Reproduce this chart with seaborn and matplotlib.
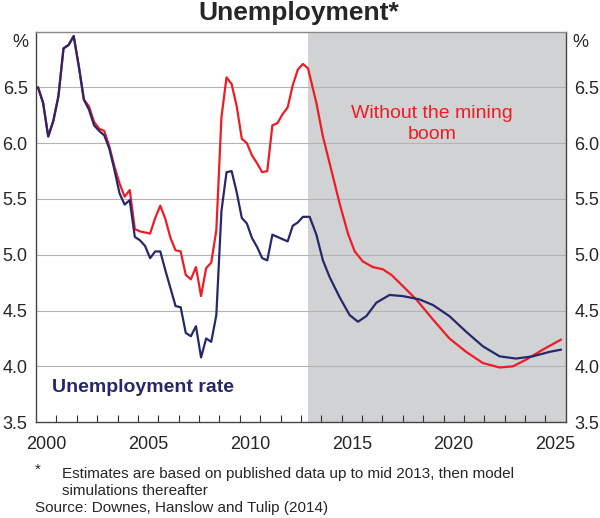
import numpy as np
import pandas as pd
import seaborn as sns
import matplotlib.pyplot as plt

# quarterly history, 2000 Q1 .. 2013 Q2
hist_years = 2000.1 + 0.25 * np.arange(54)
actual_hist = [6.50, 6.36, 6.06, 6.20, 6.42, 6.85, 6.88, 6.96, 6.69, 6.39,
               6.30, 6.16, 6.11, 6.07, 5.95, 5.76, 5.55, 5.45, 5.49, 5.16,
               5.13, 5.08, 4.97, 5.03, 5.03, 4.86, 4.70, 4.54, 4.53, 4.30,
               4.27, 4.36, 4.08, 4.25, 4.22, 4.46, 5.39, 5.74, 5.75, 5.56,
               5.33, 5.28, 5.15, 5.07, 4.97, 4.95, 5.18, 5.16, 5.14, 5.12,
               5.26, 5.29, 5.34, 5.34]
nomining_hist = [6.50, 6.36, 6.06, 6.20, 6.42, 6.85, 6.88, 6.96, 6.69, 6.39,
                 6.33, 6.19, 6.13, 6.11, 5.97, 5.79, 5.64, 5.52, 5.58, 5.23,
                 5.21, 5.20, 5.19, 5.33, 5.44, 5.32, 5.15, 5.04, 5.03, 4.82,
                 4.78, 4.89, 4.63, 4.88, 4.93, 5.22, 6.23, 6.59, 6.53, 6.33,
                 6.04, 6.00, 5.89, 5.82, 5.74, 5.75, 6.16, 6.18, 6.26, 6.32,
                 6.52, 6.66, 6.71, 6.67]

# model simulations
actual_proj_years = [2013.43, 2013.76, 2014.08, 2014.41, 2014.90, 2015.39, 2015.80,
                     2016.21, 2016.70, 2017.35, 2018.00, 2018.82, 2019.48, 2020.29,
                     2021.11, 2021.93, 2022.75, 2023.56, 2024.38, 2025.20, 2025.77]
actual_proj = [5.34, 5.18, 4.95, 4.80, 4.62, 4.46, 4.40, 4.45, 4.57, 4.64, 4.63,
               4.60, 4.55, 4.45, 4.31, 4.18, 4.09, 4.07, 4.09, 4.13, 4.15]
nomining_proj_years = [2013.76, 2014.08, 2014.41, 2014.90, 2015.31, 2015.64, 2016.04,
                       2016.53, 2017.02, 2017.44, 2018.00, 2018.66, 2019.48, 2020.29,
                       2021.11, 2021.93, 2022.75, 2023.40, 2024.05, 2024.87, 2025.77]
nomining_proj = [6.36, 6.06, 5.82, 5.46, 5.19, 5.03, 4.94, 4.89, 4.87, 4.82, 4.72,
                 4.60, 4.42, 4.25, 4.13, 4.03, 3.99, 4.00, 4.06, 4.15, 4.24]

proj_start = 2013.35
label_years = [2000, 2005, 2010, 2015, 2020, 2025]
y_ticks = [3.5, 4.0, 4.5, 5.0, 5.5, 6.0, 6.5]

navy = '#26286B'
red = '#EE1C25'

sns.set_style('white')
plt.rcParams['font.family'] = ['Liberation Sans', 'DejaVu Sans']

df = pd.concat([
    pd.DataFrame({'year': hist_years, 'rate': actual_hist, 'series': 'actual'}),
    pd.DataFrame({'year': actual_proj_years, 'rate': actual_proj, 'series': 'actual'}),
    pd.DataFrame({'year': hist_years, 'rate': nomining_hist, 'series': 'nomining'}),
    pd.DataFrame({'year': nomining_proj_years, 'rate': nomining_proj, 'series': 'nomining'}),
])

fig = plt.figure(figsize=(6.0, 5.18), dpi=100)
ax = fig.add_axes([0.06, 0.185, 0.883, 0.754])

ax.axvspan(proj_start, 2026, color='#D1D2D4', zorder=0, lw=0)
for v in y_ticks[1:]:
    ax.axhline(v, color='#B3B3B3', lw=0.8, zorder=1)

sns.lineplot(data=df[df.series == 'nomining'], x='year', y='rate', color=red,
             lw=1.6, estimator=None, ax=ax, zorder=3)
sns.lineplot(data=df[df.series == 'actual'], x='year', y='rate', color=navy,
             lw=1.6, estimator=None, ax=ax, zorder=4)

ax.set_xlim(2000, 2026)
ax.set_ylim(3.5, 7.0)
ax.set_xlabel('')
ax.set_ylabel('')

ax.set_xticks([y + 0.5 for y in label_years])
ax.set_xticklabels([str(y) for y in label_years])
ax.set_xticks(range(2001, 2026), minor=True)
ax.tick_params(axis='x', which='major', length=0, pad=10, labelsize=13)
ax.tick_params(axis='x', which='minor', direction='in', length=5, width=0.8,
               color='#333333', bottom=True)

ax.set_yticks(y_ticks)
ax.set_yticklabels([f'{v:.1f}' for v in y_ticks])
ax.tick_params(axis='y', length=0, labelsize=13, labelleft=True, labelright=True,
               pad=6)

for s in ax.spines.values():
    s.set_visible(True)
    s.set_color('#444444')
    s.set_linewidth(1.0)
ax.spines['top'].set_color('#888888')

ax.text(2000.8, 3.81, 'Unemployment rate', color=navy, fontsize=14,
        fontweight='bold', va='center', ha='left')
ax.text(2019.45, 6.17, 'Without the mining\nboom', color=red, fontsize=14,
        va='center', ha='center', linespacing=1.3)

fig.text(0.498, 0.974, 'Unemployment*', fontsize=19, fontweight='bold',
         ha='center', va='center')
fig.text(20 / 600, 1 - 42 / 518, '%', fontsize=13, ha='center', va='center')
fig.text(580 / 600, 1 - 42 / 518, '%', fontsize=13, ha='center', va='center')

fig.text(38 / 600, 1 - 470 / 518, '*', fontsize=11, ha='center', va='center')
fig.text(62 / 600, 1 - 474 / 518,
         'Estimates are based on published data up to mid 2013, then model',
         fontsize=11, ha='left', va='center')
fig.text(62 / 600, 1 - 491 / 518, 'simulations thereafter', fontsize=11,
         ha='left', va='center')
fig.text(35 / 600, 1 - 508 / 518, 'Source: Downes, Hanslow and Tulip (2014)',
         fontsize=11, ha='left', va='center')

fig.savefig('out.png', dpi=100)
